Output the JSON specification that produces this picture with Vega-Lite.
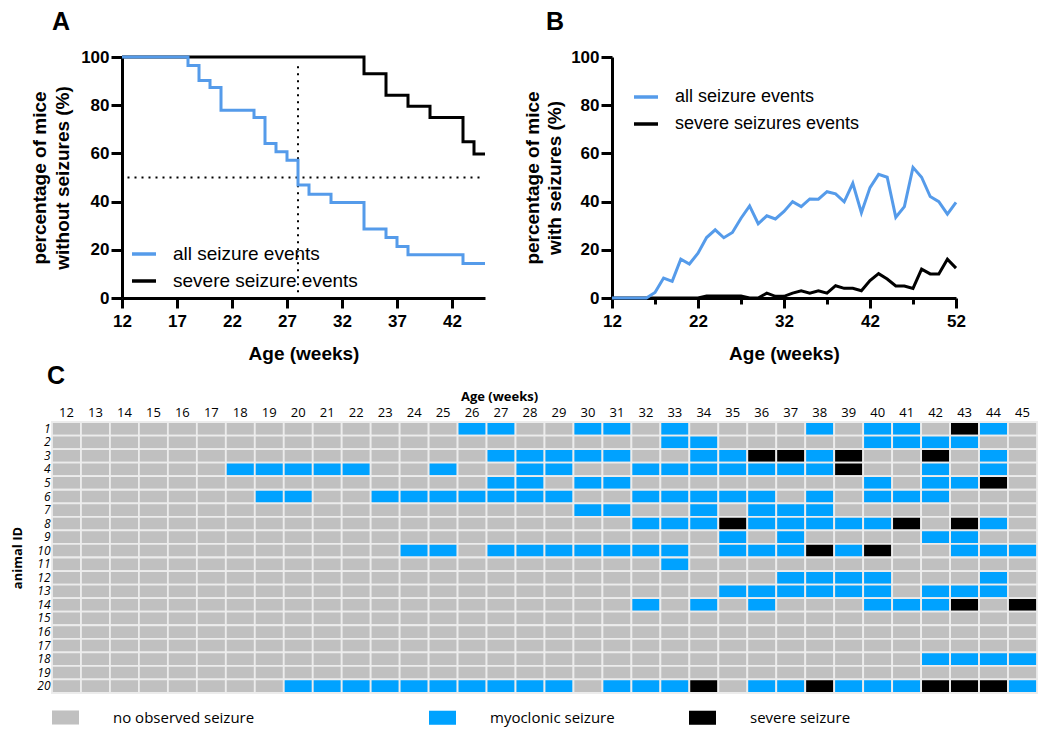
{
"$schema": "https://vega.github.io/schema/vega-lite/v6.json",
"background": "white",
"padding": {"left": 11, "top": 10, "right": 5, "bottom": 5},
"config": {
  "view": {"stroke": null},
  "font": "Liberation Sans",
  "title": {"fontSize": 25, "fontWeight": "bold", "color": "black", "anchor": "start", "frame": "group", "font": "Liberation Sans"},
  "axis": {"labelColor": "black", "titleColor": "black", "domainColor": "black", "tickColor": "black", "grid": false, "labelOverlap": false, "labelFlush": false}
},
"columns": 1,
"align": "none",
"spacing": 1,
"resolve": {"scale": {"color": "independent", "fill": "independent"}, "legend": {"color": "independent", "fill": "independent"}},
"datasets": {
  "ref": [
    {"kind": "v", "week": 28, "pct": -0.5, "pct2": 98},
    {"kind": "h", "week": 12.5, "week2": 44.5, "pct": 50}
  ],
  "km": [
    {"series": "all seizure events", "week": 12, "pct": 100},
    {"series": "all seizure events", "week": 18, "pct": 96.5},
    {"series": "all seizure events", "week": 19, "pct": 90.3},
    {"series": "all seizure events", "week": 20, "pct": 87.3},
    {"series": "all seizure events", "week": 21, "pct": 77.9},
    {"series": "all seizure events", "week": 24, "pct": 74.9},
    {"series": "all seizure events", "week": 25, "pct": 64.1},
    {"series": "all seizure events", "week": 26, "pct": 60.7},
    {"series": "all seizure events", "week": 27, "pct": 57.2},
    {"series": "all seizure events", "week": 28, "pct": 46.9},
    {"series": "all seizure events", "week": 29, "pct": 43.0},
    {"series": "all seizure events", "week": 31, "pct": 39.6},
    {"series": "all seizure events", "week": 34, "pct": 28.6},
    {"series": "all seizure events", "week": 36, "pct": 25.1},
    {"series": "all seizure events", "week": 37, "pct": 21.4},
    {"series": "all seizure events", "week": 38, "pct": 17.9},
    {"series": "all seizure events", "week": 43, "pct": 14.3},
    {"series": "all seizure events", "week": 45, "pct": 14.3},
    {"series": "severe seizure events", "week": 12, "pct": 100},
    {"series": "severe seizure events", "week": 34, "pct": 93.1},
    {"series": "severe seizure events", "week": 36, "pct": 84.1},
    {"series": "severe seizure events", "week": 38, "pct": 79.6},
    {"series": "severe seizure events", "week": 40, "pct": 74.9},
    {"series": "severe seizure events", "week": 43, "pct": 64.8},
    {"series": "severe seizure events", "week": 44, "pct": 59.7},
    {"series": "severe seizure events", "week": 45, "pct": 59.7}
  ],
  "pb": [
    {"series": "all seizure events", "week": 12, "pct": 0},
    {"series": "all seizure events", "week": 13, "pct": 0},
    {"series": "all seizure events", "week": 14, "pct": 0},
    {"series": "all seizure events", "week": 15, "pct": 0},
    {"series": "all seizure events", "week": 16, "pct": 0},
    {"series": "all seizure events", "week": 17, "pct": 2.3},
    {"series": "all seizure events", "week": 18, "pct": 8.3},
    {"series": "all seizure events", "week": 19, "pct": 6.9},
    {"series": "all seizure events", "week": 20, "pct": 16.1},
    {"series": "all seizure events", "week": 21, "pct": 14.1},
    {"series": "all seizure events", "week": 22, "pct": 18.6},
    {"series": "all seizure events", "week": 23, "pct": 25.1},
    {"series": "all seizure events", "week": 24, "pct": 28.3},
    {"series": "all seizure events", "week": 25, "pct": 25.0},
    {"series": "all seizure events", "week": 26, "pct": 27.2},
    {"series": "all seizure events", "week": 27, "pct": 33.1},
    {"series": "all seizure events", "week": 28, "pct": 38.2},
    {"series": "all seizure events", "week": 29, "pct": 30.8},
    {"series": "all seizure events", "week": 30, "pct": 34.1},
    {"series": "all seizure events", "week": 31, "pct": 32.8},
    {"series": "all seizure events", "week": 32, "pct": 35.9},
    {"series": "all seizure events", "week": 33, "pct": 40.0},
    {"series": "all seizure events", "week": 34, "pct": 37.9},
    {"series": "all seizure events", "week": 35, "pct": 41.1},
    {"series": "all seizure events", "week": 36, "pct": 41.0},
    {"series": "all seizure events", "week": 37, "pct": 44.1},
    {"series": "all seizure events", "week": 38, "pct": 43.2},
    {"series": "all seizure events", "week": 39, "pct": 39.9},
    {"series": "all seizure events", "week": 40, "pct": 47.6},
    {"series": "all seizure events", "week": 41, "pct": 35.4},
    {"series": "all seizure events", "week": 42, "pct": 45.8},
    {"series": "all seizure events", "week": 43, "pct": 51.3},
    {"series": "all seizure events", "week": 44, "pct": 50.1},
    {"series": "all seizure events", "week": 45, "pct": 33.5},
    {"series": "all seizure events", "week": 46, "pct": 37.9},
    {"series": "all seizure events", "week": 47, "pct": 54.2},
    {"series": "all seizure events", "week": 48, "pct": 50.1},
    {"series": "all seizure events", "week": 49, "pct": 42.1},
    {"series": "all seizure events", "week": 50, "pct": 40.0},
    {"series": "all seizure events", "week": 51, "pct": 34.8},
    {"series": "all seizure events", "week": 52, "pct": 39.7},
    {"series": "severe seizures events", "week": 12, "pct": 0},
    {"series": "severe seizures events", "week": 13, "pct": 0},
    {"series": "severe seizures events", "week": 14, "pct": 0},
    {"series": "severe seizures events", "week": 15, "pct": 0},
    {"series": "severe seizures events", "week": 16, "pct": 0},
    {"series": "severe seizures events", "week": 17, "pct": 0},
    {"series": "severe seizures events", "week": 18, "pct": 0},
    {"series": "severe seizures events", "week": 19, "pct": 0},
    {"series": "severe seizures events", "week": 20, "pct": 0},
    {"series": "severe seizures events", "week": 21, "pct": 0},
    {"series": "severe seizures events", "week": 22, "pct": 0},
    {"series": "severe seizures events", "week": 23, "pct": 0.8},
    {"series": "severe seizures events", "week": 24, "pct": 0.8},
    {"series": "severe seizures events", "week": 25, "pct": 0.8},
    {"series": "severe seizures events", "week": 26, "pct": 0.8},
    {"series": "severe seizures events", "week": 27, "pct": 0.8},
    {"series": "severe seizures events", "week": 28, "pct": 0},
    {"series": "severe seizures events", "week": 29, "pct": 0},
    {"series": "severe seizures events", "week": 30, "pct": 2.0},
    {"series": "severe seizures events", "week": 31, "pct": 0.7},
    {"series": "severe seizures events", "week": 32, "pct": 0.7},
    {"series": "severe seizures events", "week": 33, "pct": 2.0},
    {"series": "severe seizures events", "week": 34, "pct": 3.0},
    {"series": "severe seizures events", "week": 35, "pct": 2.0},
    {"series": "severe seizures events", "week": 36, "pct": 3.0},
    {"series": "severe seizures events", "week": 37, "pct": 2.0},
    {"series": "severe seizures events", "week": 38, "pct": 5.1},
    {"series": "severe seizures events", "week": 39, "pct": 4.0},
    {"series": "severe seizures events", "week": 40, "pct": 4.0},
    {"series": "severe seizures events", "week": 41, "pct": 3.0},
    {"series": "severe seizures events", "week": 42, "pct": 7.2},
    {"series": "severe seizures events", "week": 43, "pct": 10.1},
    {"series": "severe seizures events", "week": 44, "pct": 7.9},
    {"series": "severe seizures events", "week": 45, "pct": 5.0},
    {"series": "severe seizures events", "week": 46, "pct": 5.0},
    {"series": "severe seizures events", "week": 47, "pct": 4.0},
    {"series": "severe seizures events", "week": 48, "pct": 12.0},
    {"series": "severe seizures events", "week": 49, "pct": 10.0},
    {"series": "severe seizures events", "week": 50, "pct": 10.0},
    {"series": "severe seizures events", "week": 51, "pct": 16.1},
    {"series": "severe seizures events", "week": 52, "pct": 12.4}
  ],
  "heat": [
{"id":1,"wk":12,"s":"n"},{"id":1,"wk":13,"s":"n"},{"id":1,"wk":14,"s":"n"},{"id":1,"wk":15,"s":"n"},{"id":1,"wk":16,"s":"n"},{"id":1,"wk":17,"s":"n"},{"id":1,"wk":18,"s":"n"},{"id":1,"wk":19,"s":"n"},{"id":1,"wk":20,"s":"n"},{"id":1,"wk":21,"s":"n"},{"id":1,"wk":22,"s":"n"},{"id":1,"wk":23,"s":"n"},{"id":1,"wk":24,"s":"n"},{"id":1,"wk":25,"s":"n"},{"id":1,"wk":26,"s":"m"},{"id":1,"wk":27,"s":"m"},{"id":1,"wk":28,"s":"n"},{"id":1,"wk":29,"s":"n"},{"id":1,"wk":30,"s":"m"},{"id":1,"wk":31,"s":"m"},{"id":1,"wk":32,"s":"n"},{"id":1,"wk":33,"s":"m"},{"id":1,"wk":34,"s":"n"},{"id":1,"wk":35,"s":"n"},{"id":1,"wk":36,"s":"n"},{"id":1,"wk":37,"s":"n"},{"id":1,"wk":38,"s":"m"},{"id":1,"wk":39,"s":"n"},{"id":1,"wk":40,"s":"m"},{"id":1,"wk":41,"s":"m"},{"id":1,"wk":42,"s":"n"},{"id":1,"wk":43,"s":"s"},{"id":1,"wk":44,"s":"m"},{"id":1,"wk":45,"s":"n"},
{"id":2,"wk":12,"s":"n"},{"id":2,"wk":13,"s":"n"},{"id":2,"wk":14,"s":"n"},{"id":2,"wk":15,"s":"n"},{"id":2,"wk":16,"s":"n"},{"id":2,"wk":17,"s":"n"},{"id":2,"wk":18,"s":"n"},{"id":2,"wk":19,"s":"n"},{"id":2,"wk":20,"s":"n"},{"id":2,"wk":21,"s":"n"},{"id":2,"wk":22,"s":"n"},{"id":2,"wk":23,"s":"n"},{"id":2,"wk":24,"s":"n"},{"id":2,"wk":25,"s":"n"},{"id":2,"wk":26,"s":"n"},{"id":2,"wk":27,"s":"n"},{"id":2,"wk":28,"s":"n"},{"id":2,"wk":29,"s":"n"},{"id":2,"wk":30,"s":"n"},{"id":2,"wk":31,"s":"n"},{"id":2,"wk":32,"s":"n"},{"id":2,"wk":33,"s":"m"},{"id":2,"wk":34,"s":"m"},{"id":2,"wk":35,"s":"n"},{"id":2,"wk":36,"s":"n"},{"id":2,"wk":37,"s":"n"},{"id":2,"wk":38,"s":"n"},{"id":2,"wk":39,"s":"n"},{"id":2,"wk":40,"s":"m"},{"id":2,"wk":41,"s":"m"},{"id":2,"wk":42,"s":"m"},{"id":2,"wk":43,"s":"m"},{"id":2,"wk":44,"s":"n"},{"id":2,"wk":45,"s":"n"},
{"id":3,"wk":12,"s":"n"},{"id":3,"wk":13,"s":"n"},{"id":3,"wk":14,"s":"n"},{"id":3,"wk":15,"s":"n"},{"id":3,"wk":16,"s":"n"},{"id":3,"wk":17,"s":"n"},{"id":3,"wk":18,"s":"n"},{"id":3,"wk":19,"s":"n"},{"id":3,"wk":20,"s":"n"},{"id":3,"wk":21,"s":"n"},{"id":3,"wk":22,"s":"n"},{"id":3,"wk":23,"s":"n"},{"id":3,"wk":24,"s":"n"},{"id":3,"wk":25,"s":"n"},{"id":3,"wk":26,"s":"n"},{"id":3,"wk":27,"s":"m"},{"id":3,"wk":28,"s":"m"},{"id":3,"wk":29,"s":"m"},{"id":3,"wk":30,"s":"m"},{"id":3,"wk":31,"s":"m"},{"id":3,"wk":32,"s":"n"},{"id":3,"wk":33,"s":"n"},{"id":3,"wk":34,"s":"m"},{"id":3,"wk":35,"s":"m"},{"id":3,"wk":36,"s":"s"},{"id":3,"wk":37,"s":"s"},{"id":3,"wk":38,"s":"m"},{"id":3,"wk":39,"s":"s"},{"id":3,"wk":40,"s":"n"},{"id":3,"wk":41,"s":"n"},{"id":3,"wk":42,"s":"s"},{"id":3,"wk":43,"s":"n"},{"id":3,"wk":44,"s":"m"},{"id":3,"wk":45,"s":"n"},
{"id":4,"wk":12,"s":"n"},{"id":4,"wk":13,"s":"n"},{"id":4,"wk":14,"s":"n"},{"id":4,"wk":15,"s":"n"},{"id":4,"wk":16,"s":"n"},{"id":4,"wk":17,"s":"n"},{"id":4,"wk":18,"s":"m"},{"id":4,"wk":19,"s":"m"},{"id":4,"wk":20,"s":"m"},{"id":4,"wk":21,"s":"m"},{"id":4,"wk":22,"s":"m"},{"id":4,"wk":23,"s":"n"},{"id":4,"wk":24,"s":"n"},{"id":4,"wk":25,"s":"m"},{"id":4,"wk":26,"s":"n"},{"id":4,"wk":27,"s":"n"},{"id":4,"wk":28,"s":"m"},{"id":4,"wk":29,"s":"m"},{"id":4,"wk":30,"s":"n"},{"id":4,"wk":31,"s":"n"},{"id":4,"wk":32,"s":"m"},{"id":4,"wk":33,"s":"m"},{"id":4,"wk":34,"s":"m"},{"id":4,"wk":35,"s":"m"},{"id":4,"wk":36,"s":"m"},{"id":4,"wk":37,"s":"m"},{"id":4,"wk":38,"s":"m"},{"id":4,"wk":39,"s":"s"},{"id":4,"wk":40,"s":"n"},{"id":4,"wk":41,"s":"n"},{"id":4,"wk":42,"s":"m"},{"id":4,"wk":43,"s":"n"},{"id":4,"wk":44,"s":"m"},{"id":4,"wk":45,"s":"n"},
{"id":5,"wk":12,"s":"n"},{"id":5,"wk":13,"s":"n"},{"id":5,"wk":14,"s":"n"},{"id":5,"wk":15,"s":"n"},{"id":5,"wk":16,"s":"n"},{"id":5,"wk":17,"s":"n"},{"id":5,"wk":18,"s":"n"},{"id":5,"wk":19,"s":"n"},{"id":5,"wk":20,"s":"n"},{"id":5,"wk":21,"s":"n"},{"id":5,"wk":22,"s":"n"},{"id":5,"wk":23,"s":"n"},{"id":5,"wk":24,"s":"n"},{"id":5,"wk":25,"s":"n"},{"id":5,"wk":26,"s":"n"},{"id":5,"wk":27,"s":"m"},{"id":5,"wk":28,"s":"m"},{"id":5,"wk":29,"s":"n"},{"id":5,"wk":30,"s":"m"},{"id":5,"wk":31,"s":"m"},{"id":5,"wk":32,"s":"n"},{"id":5,"wk":33,"s":"n"},{"id":5,"wk":34,"s":"n"},{"id":5,"wk":35,"s":"n"},{"id":5,"wk":36,"s":"n"},{"id":5,"wk":37,"s":"n"},{"id":5,"wk":38,"s":"n"},{"id":5,"wk":39,"s":"n"},{"id":5,"wk":40,"s":"m"},{"id":5,"wk":41,"s":"n"},{"id":5,"wk":42,"s":"m"},{"id":5,"wk":43,"s":"m"},{"id":5,"wk":44,"s":"s"},{"id":5,"wk":45,"s":"n"},
{"id":6,"wk":12,"s":"n"},{"id":6,"wk":13,"s":"n"},{"id":6,"wk":14,"s":"n"},{"id":6,"wk":15,"s":"n"},{"id":6,"wk":16,"s":"n"},{"id":6,"wk":17,"s":"n"},{"id":6,"wk":18,"s":"n"},{"id":6,"wk":19,"s":"m"},{"id":6,"wk":20,"s":"m"},{"id":6,"wk":21,"s":"n"},{"id":6,"wk":22,"s":"n"},{"id":6,"wk":23,"s":"m"},{"id":6,"wk":24,"s":"m"},{"id":6,"wk":25,"s":"m"},{"id":6,"wk":26,"s":"m"},{"id":6,"wk":27,"s":"m"},{"id":6,"wk":28,"s":"m"},{"id":6,"wk":29,"s":"m"},{"id":6,"wk":30,"s":"n"},{"id":6,"wk":31,"s":"n"},{"id":6,"wk":32,"s":"m"},{"id":6,"wk":33,"s":"m"},{"id":6,"wk":34,"s":"m"},{"id":6,"wk":35,"s":"m"},{"id":6,"wk":36,"s":"m"},{"id":6,"wk":37,"s":"n"},{"id":6,"wk":38,"s":"m"},{"id":6,"wk":39,"s":"n"},{"id":6,"wk":40,"s":"m"},{"id":6,"wk":41,"s":"m"},{"id":6,"wk":42,"s":"m"},{"id":6,"wk":43,"s":"n"},{"id":6,"wk":44,"s":"n"},{"id":6,"wk":45,"s":"n"},
{"id":7,"wk":12,"s":"n"},{"id":7,"wk":13,"s":"n"},{"id":7,"wk":14,"s":"n"},{"id":7,"wk":15,"s":"n"},{"id":7,"wk":16,"s":"n"},{"id":7,"wk":17,"s":"n"},{"id":7,"wk":18,"s":"n"},{"id":7,"wk":19,"s":"n"},{"id":7,"wk":20,"s":"n"},{"id":7,"wk":21,"s":"n"},{"id":7,"wk":22,"s":"n"},{"id":7,"wk":23,"s":"n"},{"id":7,"wk":24,"s":"n"},{"id":7,"wk":25,"s":"n"},{"id":7,"wk":26,"s":"n"},{"id":7,"wk":27,"s":"n"},{"id":7,"wk":28,"s":"n"},{"id":7,"wk":29,"s":"n"},{"id":7,"wk":30,"s":"m"},{"id":7,"wk":31,"s":"m"},{"id":7,"wk":32,"s":"n"},{"id":7,"wk":33,"s":"n"},{"id":7,"wk":34,"s":"m"},{"id":7,"wk":35,"s":"n"},{"id":7,"wk":36,"s":"m"},{"id":7,"wk":37,"s":"m"},{"id":7,"wk":38,"s":"m"},{"id":7,"wk":39,"s":"n"},{"id":7,"wk":40,"s":"n"},{"id":7,"wk":41,"s":"n"},{"id":7,"wk":42,"s":"n"},{"id":7,"wk":43,"s":"n"},{"id":7,"wk":44,"s":"n"},{"id":7,"wk":45,"s":"n"},
{"id":8,"wk":12,"s":"n"},{"id":8,"wk":13,"s":"n"},{"id":8,"wk":14,"s":"n"},{"id":8,"wk":15,"s":"n"},{"id":8,"wk":16,"s":"n"},{"id":8,"wk":17,"s":"n"},{"id":8,"wk":18,"s":"n"},{"id":8,"wk":19,"s":"n"},{"id":8,"wk":20,"s":"n"},{"id":8,"wk":21,"s":"n"},{"id":8,"wk":22,"s":"n"},{"id":8,"wk":23,"s":"n"},{"id":8,"wk":24,"s":"n"},{"id":8,"wk":25,"s":"n"},{"id":8,"wk":26,"s":"n"},{"id":8,"wk":27,"s":"n"},{"id":8,"wk":28,"s":"n"},{"id":8,"wk":29,"s":"n"},{"id":8,"wk":30,"s":"n"},{"id":8,"wk":31,"s":"n"},{"id":8,"wk":32,"s":"m"},{"id":8,"wk":33,"s":"m"},{"id":8,"wk":34,"s":"m"},{"id":8,"wk":35,"s":"s"},{"id":8,"wk":36,"s":"m"},{"id":8,"wk":37,"s":"m"},{"id":8,"wk":38,"s":"m"},{"id":8,"wk":39,"s":"m"},{"id":8,"wk":40,"s":"m"},{"id":8,"wk":41,"s":"s"},{"id":8,"wk":42,"s":"n"},{"id":8,"wk":43,"s":"s"},{"id":8,"wk":44,"s":"m"},{"id":8,"wk":45,"s":"n"},
{"id":9,"wk":12,"s":"n"},{"id":9,"wk":13,"s":"n"},{"id":9,"wk":14,"s":"n"},{"id":9,"wk":15,"s":"n"},{"id":9,"wk":16,"s":"n"},{"id":9,"wk":17,"s":"n"},{"id":9,"wk":18,"s":"n"},{"id":9,"wk":19,"s":"n"},{"id":9,"wk":20,"s":"n"},{"id":9,"wk":21,"s":"n"},{"id":9,"wk":22,"s":"n"},{"id":9,"wk":23,"s":"n"},{"id":9,"wk":24,"s":"n"},{"id":9,"wk":25,"s":"n"},{"id":9,"wk":26,"s":"n"},{"id":9,"wk":27,"s":"n"},{"id":9,"wk":28,"s":"n"},{"id":9,"wk":29,"s":"n"},{"id":9,"wk":30,"s":"n"},{"id":9,"wk":31,"s":"n"},{"id":9,"wk":32,"s":"n"},{"id":9,"wk":33,"s":"n"},{"id":9,"wk":34,"s":"n"},{"id":9,"wk":35,"s":"m"},{"id":9,"wk":36,"s":"n"},{"id":9,"wk":37,"s":"m"},{"id":9,"wk":38,"s":"n"},{"id":9,"wk":39,"s":"n"},{"id":9,"wk":40,"s":"n"},{"id":9,"wk":41,"s":"n"},{"id":9,"wk":42,"s":"m"},{"id":9,"wk":43,"s":"m"},{"id":9,"wk":44,"s":"n"},{"id":9,"wk":45,"s":"n"},
{"id":10,"wk":12,"s":"n"},{"id":10,"wk":13,"s":"n"},{"id":10,"wk":14,"s":"n"},{"id":10,"wk":15,"s":"n"},{"id":10,"wk":16,"s":"n"},{"id":10,"wk":17,"s":"n"},{"id":10,"wk":18,"s":"n"},{"id":10,"wk":19,"s":"n"},{"id":10,"wk":20,"s":"n"},{"id":10,"wk":21,"s":"n"},{"id":10,"wk":22,"s":"n"},{"id":10,"wk":23,"s":"n"},{"id":10,"wk":24,"s":"m"},{"id":10,"wk":25,"s":"m"},{"id":10,"wk":26,"s":"n"},{"id":10,"wk":27,"s":"m"},{"id":10,"wk":28,"s":"m"},{"id":10,"wk":29,"s":"m"},{"id":10,"wk":30,"s":"m"},{"id":10,"wk":31,"s":"m"},{"id":10,"wk":32,"s":"m"},{"id":10,"wk":33,"s":"m"},{"id":10,"wk":34,"s":"n"},{"id":10,"wk":35,"s":"m"},{"id":10,"wk":36,"s":"m"},{"id":10,"wk":37,"s":"m"},{"id":10,"wk":38,"s":"s"},{"id":10,"wk":39,"s":"m"},{"id":10,"wk":40,"s":"s"},{"id":10,"wk":41,"s":"n"},{"id":10,"wk":42,"s":"n"},{"id":10,"wk":43,"s":"m"},{"id":10,"wk":44,"s":"m"},{"id":10,"wk":45,"s":"m"},
{"id":11,"wk":12,"s":"n"},{"id":11,"wk":13,"s":"n"},{"id":11,"wk":14,"s":"n"},{"id":11,"wk":15,"s":"n"},{"id":11,"wk":16,"s":"n"},{"id":11,"wk":17,"s":"n"},{"id":11,"wk":18,"s":"n"},{"id":11,"wk":19,"s":"n"},{"id":11,"wk":20,"s":"n"},{"id":11,"wk":21,"s":"n"},{"id":11,"wk":22,"s":"n"},{"id":11,"wk":23,"s":"n"},{"id":11,"wk":24,"s":"n"},{"id":11,"wk":25,"s":"n"},{"id":11,"wk":26,"s":"n"},{"id":11,"wk":27,"s":"n"},{"id":11,"wk":28,"s":"n"},{"id":11,"wk":29,"s":"n"},{"id":11,"wk":30,"s":"n"},{"id":11,"wk":31,"s":"n"},{"id":11,"wk":32,"s":"n"},{"id":11,"wk":33,"s":"m"},{"id":11,"wk":34,"s":"n"},{"id":11,"wk":35,"s":"n"},{"id":11,"wk":36,"s":"n"},{"id":11,"wk":37,"s":"n"},{"id":11,"wk":38,"s":"n"},{"id":11,"wk":39,"s":"n"},{"id":11,"wk":40,"s":"n"},{"id":11,"wk":41,"s":"n"},{"id":11,"wk":42,"s":"n"},{"id":11,"wk":43,"s":"n"},{"id":11,"wk":44,"s":"n"},{"id":11,"wk":45,"s":"n"},
{"id":12,"wk":12,"s":"n"},{"id":12,"wk":13,"s":"n"},{"id":12,"wk":14,"s":"n"},{"id":12,"wk":15,"s":"n"},{"id":12,"wk":16,"s":"n"},{"id":12,"wk":17,"s":"n"},{"id":12,"wk":18,"s":"n"},{"id":12,"wk":19,"s":"n"},{"id":12,"wk":20,"s":"n"},{"id":12,"wk":21,"s":"n"},{"id":12,"wk":22,"s":"n"},{"id":12,"wk":23,"s":"n"},{"id":12,"wk":24,"s":"n"},{"id":12,"wk":25,"s":"n"},{"id":12,"wk":26,"s":"n"},{"id":12,"wk":27,"s":"n"},{"id":12,"wk":28,"s":"n"},{"id":12,"wk":29,"s":"n"},{"id":12,"wk":30,"s":"n"},{"id":12,"wk":31,"s":"n"},{"id":12,"wk":32,"s":"n"},{"id":12,"wk":33,"s":"n"},{"id":12,"wk":34,"s":"n"},{"id":12,"wk":35,"s":"n"},{"id":12,"wk":36,"s":"n"},{"id":12,"wk":37,"s":"m"},{"id":12,"wk":38,"s":"m"},{"id":12,"wk":39,"s":"m"},{"id":12,"wk":40,"s":"m"},{"id":12,"wk":41,"s":"n"},{"id":12,"wk":42,"s":"n"},{"id":12,"wk":43,"s":"n"},{"id":12,"wk":44,"s":"m"},{"id":12,"wk":45,"s":"n"},
{"id":13,"wk":12,"s":"n"},{"id":13,"wk":13,"s":"n"},{"id":13,"wk":14,"s":"n"},{"id":13,"wk":15,"s":"n"},{"id":13,"wk":16,"s":"n"},{"id":13,"wk":17,"s":"n"},{"id":13,"wk":18,"s":"n"},{"id":13,"wk":19,"s":"n"},{"id":13,"wk":20,"s":"n"},{"id":13,"wk":21,"s":"n"},{"id":13,"wk":22,"s":"n"},{"id":13,"wk":23,"s":"n"},{"id":13,"wk":24,"s":"n"},{"id":13,"wk":25,"s":"n"},{"id":13,"wk":26,"s":"n"},{"id":13,"wk":27,"s":"n"},{"id":13,"wk":28,"s":"n"},{"id":13,"wk":29,"s":"n"},{"id":13,"wk":30,"s":"n"},{"id":13,"wk":31,"s":"n"},{"id":13,"wk":32,"s":"n"},{"id":13,"wk":33,"s":"n"},{"id":13,"wk":34,"s":"n"},{"id":13,"wk":35,"s":"m"},{"id":13,"wk":36,"s":"m"},{"id":13,"wk":37,"s":"m"},{"id":13,"wk":38,"s":"m"},{"id":13,"wk":39,"s":"m"},{"id":13,"wk":40,"s":"m"},{"id":13,"wk":41,"s":"n"},{"id":13,"wk":42,"s":"m"},{"id":13,"wk":43,"s":"m"},{"id":13,"wk":44,"s":"m"},{"id":13,"wk":45,"s":"n"},
{"id":14,"wk":12,"s":"n"},{"id":14,"wk":13,"s":"n"},{"id":14,"wk":14,"s":"n"},{"id":14,"wk":15,"s":"n"},{"id":14,"wk":16,"s":"n"},{"id":14,"wk":17,"s":"n"},{"id":14,"wk":18,"s":"n"},{"id":14,"wk":19,"s":"n"},{"id":14,"wk":20,"s":"n"},{"id":14,"wk":21,"s":"n"},{"id":14,"wk":22,"s":"n"},{"id":14,"wk":23,"s":"n"},{"id":14,"wk":24,"s":"n"},{"id":14,"wk":25,"s":"n"},{"id":14,"wk":26,"s":"n"},{"id":14,"wk":27,"s":"n"},{"id":14,"wk":28,"s":"n"},{"id":14,"wk":29,"s":"n"},{"id":14,"wk":30,"s":"n"},{"id":14,"wk":31,"s":"n"},{"id":14,"wk":32,"s":"m"},{"id":14,"wk":33,"s":"n"},{"id":14,"wk":34,"s":"m"},{"id":14,"wk":35,"s":"n"},{"id":14,"wk":36,"s":"m"},{"id":14,"wk":37,"s":"n"},{"id":14,"wk":38,"s":"n"},{"id":14,"wk":39,"s":"n"},{"id":14,"wk":40,"s":"m"},{"id":14,"wk":41,"s":"m"},{"id":14,"wk":42,"s":"m"},{"id":14,"wk":43,"s":"s"},{"id":14,"wk":44,"s":"n"},{"id":14,"wk":45,"s":"s"},
{"id":15,"wk":12,"s":"n"},{"id":15,"wk":13,"s":"n"},{"id":15,"wk":14,"s":"n"},{"id":15,"wk":15,"s":"n"},{"id":15,"wk":16,"s":"n"},{"id":15,"wk":17,"s":"n"},{"id":15,"wk":18,"s":"n"},{"id":15,"wk":19,"s":"n"},{"id":15,"wk":20,"s":"n"},{"id":15,"wk":21,"s":"n"},{"id":15,"wk":22,"s":"n"},{"id":15,"wk":23,"s":"n"},{"id":15,"wk":24,"s":"n"},{"id":15,"wk":25,"s":"n"},{"id":15,"wk":26,"s":"n"},{"id":15,"wk":27,"s":"n"},{"id":15,"wk":28,"s":"n"},{"id":15,"wk":29,"s":"n"},{"id":15,"wk":30,"s":"n"},{"id":15,"wk":31,"s":"n"},{"id":15,"wk":32,"s":"n"},{"id":15,"wk":33,"s":"n"},{"id":15,"wk":34,"s":"n"},{"id":15,"wk":35,"s":"n"},{"id":15,"wk":36,"s":"n"},{"id":15,"wk":37,"s":"n"},{"id":15,"wk":38,"s":"n"},{"id":15,"wk":39,"s":"n"},{"id":15,"wk":40,"s":"n"},{"id":15,"wk":41,"s":"n"},{"id":15,"wk":42,"s":"n"},{"id":15,"wk":43,"s":"n"},{"id":15,"wk":44,"s":"n"},{"id":15,"wk":45,"s":"n"},
{"id":16,"wk":12,"s":"n"},{"id":16,"wk":13,"s":"n"},{"id":16,"wk":14,"s":"n"},{"id":16,"wk":15,"s":"n"},{"id":16,"wk":16,"s":"n"},{"id":16,"wk":17,"s":"n"},{"id":16,"wk":18,"s":"n"},{"id":16,"wk":19,"s":"n"},{"id":16,"wk":20,"s":"n"},{"id":16,"wk":21,"s":"n"},{"id":16,"wk":22,"s":"n"},{"id":16,"wk":23,"s":"n"},{"id":16,"wk":24,"s":"n"},{"id":16,"wk":25,"s":"n"},{"id":16,"wk":26,"s":"n"},{"id":16,"wk":27,"s":"n"},{"id":16,"wk":28,"s":"n"},{"id":16,"wk":29,"s":"n"},{"id":16,"wk":30,"s":"n"},{"id":16,"wk":31,"s":"n"},{"id":16,"wk":32,"s":"n"},{"id":16,"wk":33,"s":"n"},{"id":16,"wk":34,"s":"n"},{"id":16,"wk":35,"s":"n"},{"id":16,"wk":36,"s":"n"},{"id":16,"wk":37,"s":"n"},{"id":16,"wk":38,"s":"n"},{"id":16,"wk":39,"s":"n"},{"id":16,"wk":40,"s":"n"},{"id":16,"wk":41,"s":"n"},{"id":16,"wk":42,"s":"n"},{"id":16,"wk":43,"s":"n"},{"id":16,"wk":44,"s":"n"},{"id":16,"wk":45,"s":"n"},
{"id":17,"wk":12,"s":"n"},{"id":17,"wk":13,"s":"n"},{"id":17,"wk":14,"s":"n"},{"id":17,"wk":15,"s":"n"},{"id":17,"wk":16,"s":"n"},{"id":17,"wk":17,"s":"n"},{"id":17,"wk":18,"s":"n"},{"id":17,"wk":19,"s":"n"},{"id":17,"wk":20,"s":"n"},{"id":17,"wk":21,"s":"n"},{"id":17,"wk":22,"s":"n"},{"id":17,"wk":23,"s":"n"},{"id":17,"wk":24,"s":"n"},{"id":17,"wk":25,"s":"n"},{"id":17,"wk":26,"s":"n"},{"id":17,"wk":27,"s":"n"},{"id":17,"wk":28,"s":"n"},{"id":17,"wk":29,"s":"n"},{"id":17,"wk":30,"s":"n"},{"id":17,"wk":31,"s":"n"},{"id":17,"wk":32,"s":"n"},{"id":17,"wk":33,"s":"n"},{"id":17,"wk":34,"s":"n"},{"id":17,"wk":35,"s":"n"},{"id":17,"wk":36,"s":"n"},{"id":17,"wk":37,"s":"n"},{"id":17,"wk":38,"s":"n"},{"id":17,"wk":39,"s":"n"},{"id":17,"wk":40,"s":"n"},{"id":17,"wk":41,"s":"n"},{"id":17,"wk":42,"s":"n"},{"id":17,"wk":43,"s":"n"},{"id":17,"wk":44,"s":"n"},{"id":17,"wk":45,"s":"n"},
{"id":18,"wk":12,"s":"n"},{"id":18,"wk":13,"s":"n"},{"id":18,"wk":14,"s":"n"},{"id":18,"wk":15,"s":"n"},{"id":18,"wk":16,"s":"n"},{"id":18,"wk":17,"s":"n"},{"id":18,"wk":18,"s":"n"},{"id":18,"wk":19,"s":"n"},{"id":18,"wk":20,"s":"n"},{"id":18,"wk":21,"s":"n"},{"id":18,"wk":22,"s":"n"},{"id":18,"wk":23,"s":"n"},{"id":18,"wk":24,"s":"n"},{"id":18,"wk":25,"s":"n"},{"id":18,"wk":26,"s":"n"},{"id":18,"wk":27,"s":"n"},{"id":18,"wk":28,"s":"n"},{"id":18,"wk":29,"s":"n"},{"id":18,"wk":30,"s":"n"},{"id":18,"wk":31,"s":"n"},{"id":18,"wk":32,"s":"n"},{"id":18,"wk":33,"s":"n"},{"id":18,"wk":34,"s":"n"},{"id":18,"wk":35,"s":"n"},{"id":18,"wk":36,"s":"n"},{"id":18,"wk":37,"s":"n"},{"id":18,"wk":38,"s":"n"},{"id":18,"wk":39,"s":"n"},{"id":18,"wk":40,"s":"n"},{"id":18,"wk":41,"s":"n"},{"id":18,"wk":42,"s":"m"},{"id":18,"wk":43,"s":"m"},{"id":18,"wk":44,"s":"m"},{"id":18,"wk":45,"s":"m"},
{"id":19,"wk":12,"s":"n"},{"id":19,"wk":13,"s":"n"},{"id":19,"wk":14,"s":"n"},{"id":19,"wk":15,"s":"n"},{"id":19,"wk":16,"s":"n"},{"id":19,"wk":17,"s":"n"},{"id":19,"wk":18,"s":"n"},{"id":19,"wk":19,"s":"n"},{"id":19,"wk":20,"s":"n"},{"id":19,"wk":21,"s":"n"},{"id":19,"wk":22,"s":"n"},{"id":19,"wk":23,"s":"n"},{"id":19,"wk":24,"s":"n"},{"id":19,"wk":25,"s":"n"},{"id":19,"wk":26,"s":"n"},{"id":19,"wk":27,"s":"n"},{"id":19,"wk":28,"s":"n"},{"id":19,"wk":29,"s":"n"},{"id":19,"wk":30,"s":"n"},{"id":19,"wk":31,"s":"n"},{"id":19,"wk":32,"s":"n"},{"id":19,"wk":33,"s":"n"},{"id":19,"wk":34,"s":"n"},{"id":19,"wk":35,"s":"n"},{"id":19,"wk":36,"s":"n"},{"id":19,"wk":37,"s":"n"},{"id":19,"wk":38,"s":"n"},{"id":19,"wk":39,"s":"n"},{"id":19,"wk":40,"s":"n"},{"id":19,"wk":41,"s":"n"},{"id":19,"wk":42,"s":"n"},{"id":19,"wk":43,"s":"n"},{"id":19,"wk":44,"s":"n"},{"id":19,"wk":45,"s":"n"},
{"id":20,"wk":12,"s":"n"},{"id":20,"wk":13,"s":"n"},{"id":20,"wk":14,"s":"n"},{"id":20,"wk":15,"s":"n"},{"id":20,"wk":16,"s":"n"},{"id":20,"wk":17,"s":"n"},{"id":20,"wk":18,"s":"n"},{"id":20,"wk":19,"s":"n"},{"id":20,"wk":20,"s":"m"},{"id":20,"wk":21,"s":"m"},{"id":20,"wk":22,"s":"m"},{"id":20,"wk":23,"s":"m"},{"id":20,"wk":24,"s":"m"},{"id":20,"wk":25,"s":"m"},{"id":20,"wk":26,"s":"m"},{"id":20,"wk":27,"s":"m"},{"id":20,"wk":28,"s":"m"},{"id":20,"wk":29,"s":"m"},{"id":20,"wk":30,"s":"n"},{"id":20,"wk":31,"s":"m"},{"id":20,"wk":32,"s":"m"},{"id":20,"wk":33,"s":"m"},{"id":20,"wk":34,"s":"s"},{"id":20,"wk":35,"s":"n"},{"id":20,"wk":36,"s":"m"},{"id":20,"wk":37,"s":"m"},{"id":20,"wk":38,"s":"s"},{"id":20,"wk":39,"s":"m"},{"id":20,"wk":40,"s":"m"},{"id":20,"wk":41,"s":"m"},{"id":20,"wk":42,"s":"s"},{"id":20,"wk":43,"s":"s"},{"id":20,"wk":44,"s":"s"},{"id":20,"wk":45,"s":"m"}
  ]
},
"concat": [
  {
    "spacing": 32,
    "resolve": {"scale": {"color": "independent"}, "legend": {"color": "independent"}},
    "hconcat": [
      {
        "width": 363,
        "height": 241,
        "title": {"text": "A", "dx": -70, "offset": 13},
        "layer": [
          {
            "data": {"name": "ref"},
            "transform": [{"filter": "datum.kind == 'v'"}],
            "mark": {"type": "rule", "color": "black", "strokeWidth": 2, "strokeDash": [2, 5]},
            "encoding": {
              "x": {"field": "week", "type": "quantitative", "title": "Age (weeks)",
                "scale": {"domain": [12, 45], "nice": false, "zero": false},
                "axis": {"values": [12, 17, 22, 27, 32, 37, 42], "labelFontSize": 17, "labelFontWeight": "bold", "labelFont": "Liberation Sans", "labelPadding": 5, "tickSize": 10, "tickWidth": 3, "domainWidth": 3, "titleFontSize": 19, "titleFontWeight": "bold", "titleFont": "Liberation Sans", "titlePadding": 15}},
              "y": {"field": "pct", "type": "quantitative", "title": ["percentage of mice", "without seizures (%)"],
                "scale": {"domain": [0, 100], "nice": false},
                "axis": {"values": [0, 10, 20, 30, 40, 50, 60, 70, 80, 90, 100], "labelExpr": "datum.value % 20 === 0 ? datum.label : ''", "tickSize": {"condition": {"test": "datum.value % 20 === 0", "value": 11}, "value": 5}, "labelFontSize": 17, "labelFontWeight": "bold", "labelFont": "Liberation Sans", "labelPadding": 2, "tickWidth": 3, "domainWidth": 3, "titleFontSize": 19, "titleFontWeight": "bold", "titleFont": "Liberation Sans", "titleLineHeight": 23, "titlePadding": 8}},
              "y2": {"field": "pct2"}
            }
          },
          {
            "data": {"name": "ref"},
            "transform": [{"filter": "datum.kind == 'h'"}],
            "mark": {"type": "rule", "color": "black", "strokeWidth": 2, "strokeDash": [2, 5]},
            "encoding": {
              "x": {"field": "week", "type": "quantitative"},
              "x2": {"field": "week2"},
              "y": {"field": "pct", "type": "quantitative"}
            }
          },
          {
            "data": {"name": "km"},
            "transform": [{"filter": "datum.series == 'severe seizure events'"}],
            "mark": {"type": "line", "interpolate": "step-after", "strokeWidth": 3},
            "encoding": {
              "x": {"field": "week", "type": "quantitative"},
              "y": {"field": "pct", "type": "quantitative"},
              "color": {"field": "series", "type": "nominal",
                "scale": {"domain": ["all seizure events", "severe seizure events"], "range": ["#559BEA", "#000000"]},
                "legend": {"orient": "none", "legendX": 8, "legendY": 183, "title": null, "symbolType": "stroke", "symbolSize": 576, "symbolStrokeWidth": 3.5, "labelFont": "Liberation Sans", "labelFontSize": 19, "labelColor": "black", "labelOffset": 15, "rowPadding": 3, "labelLimit": 300}}
            }
          },
          {
            "data": {"name": "km"},
            "transform": [{"filter": "datum.series == 'all seizure events'"}],
            "mark": {"type": "line", "interpolate": "step-after", "strokeWidth": 3},
            "encoding": {
              "x": {"field": "week", "type": "quantitative"},
              "y": {"field": "pct", "type": "quantitative"},
              "color": {"field": "series", "type": "nominal",
                "scale": {"domain": ["all seizure events", "severe seizure events"], "range": ["#559BEA", "#000000"]}}
            }
          }
        ]
      },
      {
        "width": 344,
        "height": 241,
        "title": {"text": "B", "dx": -66, "offset": 13},
        "layer": [
          {
            "data": {"name": "pb"},
            "transform": [{"filter": "datum.series == 'severe seizures events'"}],
            "mark": {"type": "line", "strokeWidth": 3},
            "encoding": {
              "x": {"field": "week", "type": "quantitative", "title": "Age (weeks)",
                "scale": {"domain": [12, 52], "nice": false, "zero": false},
                "axis": {"values": [12, 17, 22, 27, 32, 37, 42, 47, 52], "labelExpr": "(datum.value - 12) % 10 === 0 ? datum.label : ''", "tickSize": {"condition": {"test": "(datum.value - 12) % 10 === 0", "value": 10}, "value": 6}, "labelFontSize": 17, "labelFontWeight": "bold", "labelFont": "Liberation Sans", "labelPadding": 5, "tickWidth": 3, "domainWidth": 3, "titleFontSize": 19, "titleFontWeight": "bold", "titleFont": "Liberation Sans", "titlePadding": 15}},
              "y": {"field": "pct", "type": "quantitative", "title": ["percentage of mice", "with seizures (%)"],
                "scale": {"domain": [0, 100], "nice": false},
                "axis": {"values": [0, 10, 20, 30, 40, 50, 60, 70, 80, 90, 100], "labelExpr": "datum.value % 20 === 0 ? datum.label : ''", "tickSize": {"condition": {"test": "datum.value % 20 === 0", "value": 11}, "value": 5}, "labelFontSize": 17, "labelFontWeight": "bold", "labelFont": "Liberation Sans", "labelPadding": 2, "tickWidth": 3, "domainWidth": 3, "titleFontSize": 19, "titleFontWeight": "bold", "titleFont": "Liberation Sans", "titleLineHeight": 22, "titlePadding": 6}},
              "color": {"field": "series", "type": "nominal",
                "scale": {"domain": ["all seizure events", "severe seizures events"], "range": ["#559BEA", "#000000"]},
                "legend": {"orient": "none", "legendX": 20, "legendY": 26, "title": null, "symbolType": "stroke", "symbolSize": 576, "symbolStrokeWidth": 3.5, "labelFont": "Liberation Sans", "labelFontSize": 18, "labelColor": "black", "labelOffset": 15, "rowPadding": 4, "labelLimit": 300}}
            }
          },
          {
            "data": {"name": "pb"},
            "transform": [{"filter": "datum.series == 'all seizure events'"}],
            "mark": {"type": "line", "strokeWidth": 3},
            "encoding": {
              "x": {"field": "week", "type": "quantitative"},
              "y": {"field": "pct", "type": "quantitative"},
              "color": {"field": "series", "type": "nominal",
                "scale": {"domain": ["all seizure events", "severe seizures events"], "range": ["#559BEA", "#000000"]}}
            }
          }
        ]
      }
    ]
  },
  {
    "width": 915,
    "height": 271,
    "title": {"text": "C", "dx": -75, "offset": 1},
    "data": {"name": "heat"},
    "encoding": {
      "x": {"field": "wk", "type": "ordinal", "title": "Age (weeks)",
        "scale": {"range": [-70, 915], "paddingInner": 0, "paddingOuter": 0},
        "axis": {"orient": "top", "labelAngle": 0, "domain": false, "ticks": false, "tickSize": 0, "labelFont": "Open Sans", "labelFontSize": 13, "labelPadding": 3, "titleFont": "Open Sans", "titleFontSize": 13, "titleFontWeight": "bold", "titlePadding": 3, "titleX": 377}},
      "y": {"field": "id", "type": "ordinal", "title": "animal ID",
        "axis": {"offset": 70, "domain": false, "ticks": false, "tickSize": 0, "labelFont": "Open Sans", "labelFontStyle": "italic", "labelFontSize": 12, "labelPadding": 2, "titleFont": "Open Sans", "titleFontSize": 13, "titleFontWeight": "bold", "titlePadding": 12}}
    },
    "layer": [
      {
        "mark": {"type": "rect", "stroke": "#ececec", "strokeWidth": 1.8},
        "encoding": {
          "color": {"field": "s", "type": "nominal",
            "scale": {"domain": ["n", "m", "s"], "range": ["#c0c0c0", "#00a2ff", "#000000"]},
            "legend": {"values": ["n"], "orient": "none", "legendX": -70, "legendY": 282, "direction": "horizontal", "title": null, "symbolType": "M-1,-0.52H1V0.52H-1Z", "symbolSize": 729, "symbolStrokeWidth": 0, "symbolOpacity": 1, "labelFont": "Open Sans", "labelFontSize": 15, "labelColor": "black", "labelOffset": 34, "labelLimit": 400,
              "labelExpr": "'no observed seizure'"}}
        }
      },
      {
        "mark": {"type": "rect", "stroke": "#ececec", "strokeWidth": 1.8},
        "encoding": {
          "fill": {"field": "s", "type": "nominal",
            "scale": {"domain": ["m", "s", "n"], "range": ["#00a2ff", "#000000", "#c0c0c0"]},
            "legend": {"values": ["m", "s"], "orient": "none", "legendX": 307, "legendY": 282, "direction": "horizontal", "title": null, "symbolType": "M-1,-0.52H1V0.52H-1Z", "symbolSize": 729, "symbolStrokeWidth": 0, "symbolOpacity": 1, "labelFont": "Open Sans", "labelFontSize": 15, "labelColor": "black", "labelOffset": 34, "columnPadding": 74, "labelLimit": 400,
              "labelExpr": "datum.value == 'm' ? 'myoclonic seizure' : 'severe seizure'"}}
        }
      }
    ]
  }
]
}
